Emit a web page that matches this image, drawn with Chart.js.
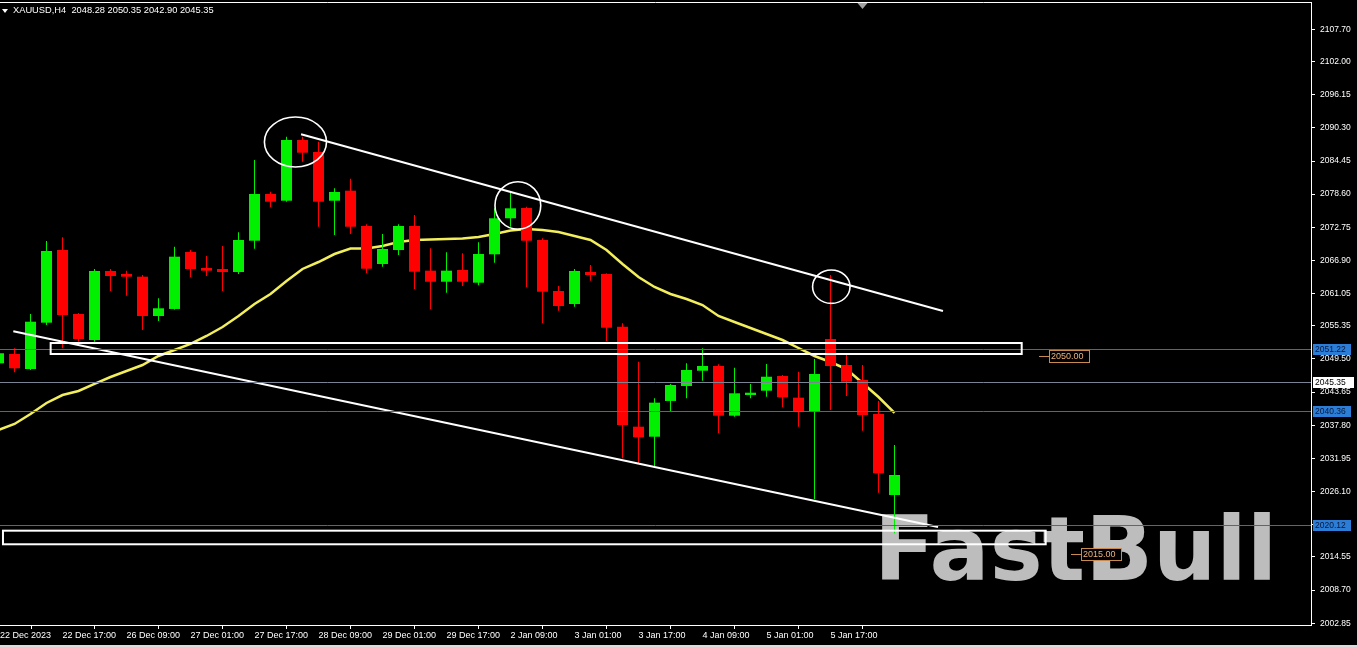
<!DOCTYPE html>
<html>
<head>
<meta charset="utf-8">
<title>XAUUSD,H4</title>
<script src="https://cdn.jsdelivr.net/npm/chart.js@4.4.1/dist/chart.umd.min.js"></script>
<style>
  html, body { margin: 0; padding: 0; background: #000; overflow: hidden; }
  #wrap { width: 1357px; height: 647px; }
</style>
</head>
<body>
<div id="wrap"><canvas id="chart" width="1357" height="647"></canvas></div>
<script>
const SYMBOL = "XAUUSD,H4";
const LAST_OHLC = [2048.28, 2050.35, 2042.90, 2045.35];
const WATERMARK = "FastBull";

const times = [
  "22 Dec 01:00", "22 Dec 05:00", "22 Dec 09:00", "22 Dec 13:00", "22 Dec 17:00", "22 Dec 21:00",
  "26 Dec 01:00", "26 Dec 05:00", "26 Dec 09:00", "26 Dec 13:00", "26 Dec 17:00", "26 Dec 21:00",
  "27 Dec 01:00", "27 Dec 05:00", "27 Dec 09:00", "27 Dec 13:00", "27 Dec 17:00", "27 Dec 21:00",
  "28 Dec 01:00", "28 Dec 05:00", "28 Dec 09:00", "28 Dec 13:00", "28 Dec 17:00", "28 Dec 21:00",
  "29 Dec 01:00", "29 Dec 05:00", "29 Dec 09:00", "29 Dec 13:00", "29 Dec 17:00", "29 Dec 21:00",
  "2 Jan 01:00", "2 Jan 05:00", "2 Jan 09:00", "2 Jan 13:00", "2 Jan 17:00", "2 Jan 21:00",
  "3 Jan 01:00", "3 Jan 05:00", "3 Jan 09:00", "3 Jan 13:00", "3 Jan 17:00", "3 Jan 21:00",
  "4 Jan 01:00", "4 Jan 05:00", "4 Jan 09:00", "4 Jan 13:00", "4 Jan 17:00", "4 Jan 21:00",
  "5 Jan 01:00", "5 Jan 05:00", "5 Jan 09:00", "5 Jan 13:00", "5 Jan 17:00", "5 Jan 21:00",
  "8 Jan 01:00", "8 Jan 05:00", "8 Jan 09:00",
];

const opens = [
  2048.74, 2050.38, 2047.73, 2055.91, 2068.74, 2057.44, 2052.85, 2065.03, 2064.50, 2064.03,
  2057.09, 2058.33, 2068.39, 2065.56, 2065.39, 2064.86, 2070.38, 2078.63, 2077.44, 2088.16,
  2086.04, 2077.44, 2079.21, 2072.98, 2066.27, 2068.74, 2072.98, 2065.09, 2063.14, 2065.21,
  2062.97, 2067.98, 2074.34, 2076.15, 2070.51, 2061.50, 2059.21, 2064.86, 2064.50, 2055.20,
  2037.55, 2035.78, 2042.09, 2044.73, 2047.43, 2048.26, 2039.49, 2043.14, 2043.90, 2046.50,
  2042.67, 2040.20, 2053.03, 2048.44, 2045.79, 2039.79, 2025.49,
];
const highs = [
  2050.91, 2051.39, 2057.44, 2070.33, 2070.98, 2057.60, 2065.39, 2065.39, 2065.09, 2064.33,
  2060.21, 2069.32, 2068.74, 2067.68, 2069.45, 2071.86, 2084.63, 2079.03, 2088.74, 2088.74,
  2087.86, 2079.63, 2081.33, 2073.28, 2071.56, 2073.28, 2074.92, 2069.04, 2068.33, 2068.16,
  2070.10, 2076.10, 2078.85, 2076.38, 2070.81, 2062.39, 2065.39, 2066.09, 2064.63, 2055.80,
  2049.02, 2042.56, 2045.09, 2048.74, 2051.39, 2048.56, 2047.96, 2045.09, 2048.62, 2046.68,
  2047.26, 2049.50, 2064.33, 2050.51, 2048.44, 2042.09, 2034.32,
];
const lows = [
  2048.26, 2047.15, 2047.56, 2055.50, 2051.39, 2052.55, 2052.55, 2061.50, 2060.67, 2054.62,
  2056.21, 2058.20, 2063.92, 2064.15, 2061.50, 2064.50, 2068.97, 2076.28, 2077.27, 2084.33,
  2072.85, 2071.39, 2071.56, 2064.63, 2065.79, 2067.86, 2061.86, 2058.27, 2061.20, 2062.39,
  2062.51, 2066.50, 2072.85, 2062.16, 2055.80, 2058.03, 2058.73, 2063.32, 2052.68, 2031.97,
  2031.09, 2030.61, 2040.20, 2042.56, 2045.67, 2036.38, 2039.32, 2042.56, 2042.84, 2040.97,
  2037.55, 2024.73, 2040.50, 2042.97, 2036.84, 2025.90, 2018.73,
];
const closes = [
  2050.51, 2047.86, 2056.08, 2068.56, 2057.27, 2053.03, 2065.03, 2064.15, 2064.03, 2057.09,
  2058.45, 2067.56, 2065.39, 2065.09, 2064.86, 2070.51, 2078.63, 2077.27, 2088.16, 2085.92,
  2077.27, 2078.98, 2072.85, 2065.44, 2068.92, 2072.98, 2064.91, 2063.14, 2065.09, 2063.14,
  2068.03, 2074.34, 2076.10, 2070.38, 2061.38, 2058.85, 2065.03, 2064.33, 2055.02, 2037.85,
  2035.68, 2041.79, 2044.91, 2047.56, 2048.26, 2039.49, 2043.44, 2043.55, 2046.37, 2042.74,
  2040.20, 2046.85, 2048.26, 2045.49, 2039.61, 2029.32, 2029.02,
];
const maValues = [
  2036.97, 2038.03, 2039.79, 2041.73, 2043.14, 2043.85, 2045.09, 2046.32, 2047.38, 2048.44,
  2050.03, 2051.09, 2052.15, 2053.56, 2055.15, 2057.09, 2059.21, 2060.97, 2063.27, 2065.39,
  2066.62, 2068.03, 2069.00, 2069.00, 2069.45, 2070.15, 2070.51, 2070.59, 2070.68, 2070.77,
  2071.03, 2071.56, 2072.18, 2072.45, 2072.27, 2071.92, 2071.21, 2070.51, 2068.74, 2066.27,
  2063.97, 2062.21, 2060.97, 2060.09, 2059.03, 2057.09, 2056.03, 2054.97, 2053.91, 2052.85,
  2051.44, 2050.03, 2048.97, 2047.73, 2045.26, 2042.79, 2039.97,
];

const yTicks = [
  2107.70, 2102.00, 2096.15, 2090.30, 2084.45, 2078.60, 2072.75, 2066.90, 2061.05, 2055.35,
  2049.50, 2043.65, 2037.80, 2031.95, 2026.10, 2020.25, 2014.55, 2008.70, 2002.85,
];
const xFirstLabel = "22 Dec 2023";
const xTickBars = [4, 8, 12, 16, 20, 24, 28, 32, 36, 40, 44, 48, 52];

const levelLines = [2051.22, 2040.36, 2020.12];
const bidPrice = 2045.35;
const alertPrices = [2050.00, 2015.00];
const alertBars = [65.03, 67.03];

const trendUpper = [[18.91, 2089.16], [59.03, 2057.97]];
const trendLower = [[0.925, 2054.39], [58.72, 2019.84]];
const zoneBars = [[3.26, 63.95], [0.28, 65.45]];
const zonePrices = [[2050.38, 2052.32], [2016.79, 2019.19]];
const ringBars = [18.56, 32.46, 52.05];
const ringPrices = [2087.81, 2076.60, 2062.26];
const ringBarRadius = [1.94, 1.43, 1.17];
const ringPriceRadius = [4.41, 4.2, 2.95];

const X_MIN = 0.09375;
const X_MAX = 82.03125;
const Y_MIN = 2002.54;
const Y_MAX = 2112.52;

const BULL = "#00f000";
const BEAR = "#ff0000";
const MA_COLOR = "#f3ef5c";
const LEVEL_COLOR = "#3c6dab";
const BID_COLOR = "#7a8494";
const AXIS_FONT = '"Liberation Sans", Arial, sans-serif';

function candleColor(i) {
  return closes[i] >= opens[i] ? BULL : BEAR;
}

function toPoints(pairs) {
  return pairs.map(([x, y]) => ({ x, y }));
}

const overlay = {
  id: "mt4Overlay",
  beforeDatasetsDraw(chart) {
    const { ctx, chartArea: a } = chart;
    ctx.save();
    ctx.beginPath();
    ctx.rect(a.left, a.top, a.width, a.height);
    ctx.clip();
    ctx.fillStyle = "#bdbdbd";
    ctx.font = 'bold 89px "DejaVu Sans"';
    ctx.textBaseline = "alphabetic";
    ctx.textAlign = "left";
    ctx.fillText(WATERMARK, 874, 580);
    ctx.restore();
  },
  afterDatasetsDraw(chart) {
    const { ctx, chartArea: a, scales: { x, y } } = chart;
    ctx.save();
    ctx.lineWidth = 1;
    const hline = (price, color) => {
      const py = Math.round(y.getPixelForValue(price)) + 0.5;
      ctx.strokeStyle = color;
      ctx.beginPath();
      ctx.moveTo(a.left, py);
      ctx.lineTo(a.right, py);
      ctx.stroke();
    };
    levelLines.forEach((p) => hline(p, LEVEL_COLOR));
    hline(bidPrice, BID_COLOR);

    ctx.strokeStyle = "#ffffff";
    ctx.lineWidth = 2;
    zoneBars.forEach(([b1, b2], k) => {
      const x1 = x.getPixelForValue(b1);
      const x2 = x.getPixelForValue(b2);
      const y1 = y.getPixelForValue(zonePrices[k][1]);
      const y2 = y.getPixelForValue(zonePrices[k][0]);
      ctx.strokeRect(x1, y1, x2 - x1, y2 - y1);
    });

    ctx.lineWidth = 1.6;
    ringBars.forEach((b, k) => {
      const cx = x.getPixelForValue(b);
      const cy = y.getPixelForValue(ringPrices[k]);
      const rx = x.getPixelForValue(b + ringBarRadius[k]) - cx;
      const ry = y.getPixelForValue(ringPrices[k] - ringPriceRadius[k]) - cy;
      ctx.beginPath();
      ctx.ellipse(cx, cy, rx, ry, 0, 0, Math.PI * 2);
      ctx.stroke();
    });
    ctx.restore();
  },
  afterDraw(chart) {
    const { ctx, chartArea: a, scales: { x, y } } = chart;
    ctx.save();

    // frame top edge
    ctx.strokeStyle = "#ffffff";
    ctx.lineWidth = 1;
    ctx.beginPath();
    ctx.moveTo(a.left, a.top + 0.5);
    ctx.lineTo(a.right, a.top + 0.5);
    ctx.stroke();

    // header
    ctx.fillStyle = "#ffffff";
    ctx.beginPath();
    ctx.moveTo(2, 9);
    ctx.lineTo(8, 9);
    ctx.lineTo(5, 13);
    ctx.closePath();
    ctx.fill();
    ctx.font = "9.3px " + AXIS_FONT;
    ctx.textBaseline = "middle";
    ctx.textAlign = "left";
    ctx.fillText(SYMBOL + "  " + LAST_OHLC.map((v) => v.toFixed(2)).join(" "), 13, 10.5);

    // chart shift marker
    const sx = x.getPixelForValue(54);
    ctx.fillStyle = "#a0a0a0";
    ctx.beginPath();
    ctx.moveTo(sx - 5, a.top + 1);
    ctx.lineTo(sx + 5, a.top + 1);
    ctx.lineTo(sx, a.top + 7);
    ctx.closePath();
    ctx.fill();

    // price boxes on the axis
    ctx.font = "8.5px " + AXIS_FONT;
    const axisBox = (price, fill, color, w) => {
      const py = Math.round(y.getPixelForValue(price));
      ctx.fillStyle = fill;
      ctx.fillRect(a.right + 2, py - 5, w, 11);
      ctx.fillStyle = color;
      ctx.fillText(price.toFixed(2), a.right + 4, py + 0.5);
    };
    levelLines.forEach((p) => axisBox(p, "#2c7dd6", "#07183d", 38));
    axisBox(bidPrice, "#ffffff", "#000000", 41);

    // alert price labels
    ctx.font = "9px " + AXIS_FONT;
    alertPrices.forEach((p, k) => {
      const py = Math.round(y.getPixelForValue(p)) + 0.5;
      const lx = Math.round(x.getPixelForValue(alertBars[k]));
      ctx.strokeStyle = "#c98a4f";
      ctx.lineWidth = 1;
      ctx.beginPath();
      ctx.moveTo(lx, py);
      ctx.lineTo(lx + 10, py);
      ctx.stroke();
      ctx.fillStyle = "#000000";
      ctx.fillRect(lx + 10, py - 6, 41, 12);
      ctx.strokeRect(lx + 10.5, py - 6, 40, 12);
      ctx.fillStyle = "#f0b27a";
      ctx.fillText(p.toFixed(2), lx + 12, py + 0.5);
    });

    // window edge
    ctx.fillStyle = "#dcdcdc";
    ctx.fillRect(0, chart.height - 2, chart.width, 2);
    ctx.restore();
  },
};

const bodyData = opens.map((o, i) => ({ x: i, y: [o, closes[i]] }));
const wickData = highs.map((h, i) => ({ x: i, y: [lows[i], h] }));
const maData = maValues.map((v, i) => ({ x: i, y: v }));
const colors = times.map((t, i) => candleColor(i));

const ctx = document.getElementById("chart");
new Chart(ctx, {
  type: "bar",
  data: {
    datasets: [
      {
        type: "line",
        data: toPoints(trendUpper),
        borderColor: "#ffffff",
        borderWidth: 2,
        pointRadius: 0,
        tension: 0,
      },
      {
        type: "line",
        data: toPoints(trendLower),
        borderColor: "#ffffff",
        borderWidth: 2,
        pointRadius: 0,
        tension: 0,
      },
      {
        type: "bar",
        data: bodyData,
        backgroundColor: colors,
        barThickness: 11,
        grouped: false,
        borderWidth: 0,
        inflateAmount: 0,
      },
      {
        type: "bar",
        data: wickData,
        backgroundColor: colors,
        barThickness: 1,
        grouped: false,
        borderWidth: 0,
        inflateAmount: 0,
      },
      {
        type: "line",
        data: maData,
        borderColor: MA_COLOR,
        borderWidth: 2.5,
        pointRadius: 0,
        tension: 0,
      },
    ],
  },
  options: {
    responsive: false,
    animation: false,
    devicePixelRatio: 1,
    events: [],
    layout: { padding: { top: 2, left: 0, right: 0, bottom: 0 } },
    plugins: {
      legend: { display: false },
      tooltip: { enabled: false },
    },
    scales: {
      x: {
        type: "linear",
        min: X_MIN,
        max: X_MAX,
        bounds: "data",
        offset: false,
        afterBuildTicks: (s) => {
          s.ticks = [{ value: X_MIN }].concat(xTickBars.map((b) => ({ value: b })));
        },
        afterFit: (s) => {
          s.height = 22;
          s.paddingLeft = 0;
          s.paddingRight = 0;
        },
        ticks: {
          autoSkip: false,
          maxRotation: 0,
          minRotation: 0,
          align: "start",
          padding: 1,
          color: "#ffffff",
          font: { family: AXIS_FONT, size: 9 },
          callback: (v, idx) => (idx === 0 ? xFirstLabel : times[xTickBars[idx - 1]]),
        },
        grid: { drawOnChartArea: false, drawTicks: true, tickLength: 4, tickColor: "#ffffff" },
        border: { display: true, color: "#ffffff", width: 1 },
      },
      y: {
        type: "linear",
        position: "right",
        min: Y_MIN,
        max: Y_MAX,
        bounds: "data",
        afterBuildTicks: (s) => {
          s.ticks = yTicks.map((v) => ({ value: v }));
        },
        afterFit: (s) => {
          s.width = 46;
          s.paddingTop = 0;
          s.paddingBottom = 0;
        },
        ticks: {
          autoSkip: false,
          padding: 5,
          color: "#ffffff",
          font: { family: AXIS_FONT, size: 8.5 },
          callback: (v) => Number(v).toFixed(2),
        },
        grid: { drawOnChartArea: false, drawTicks: true, tickLength: 4, tickColor: "#ffffff" },
        border: { display: true, color: "#ffffff", width: 1 },
      },
    },
  },
  plugins: [overlay],
});
</script>
</body>
</html>
